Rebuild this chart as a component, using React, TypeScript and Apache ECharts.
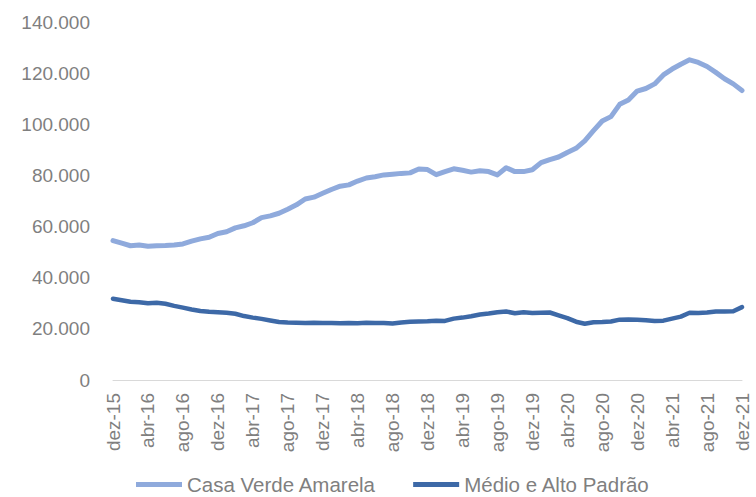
import React, { useEffect, useRef } from "react";
import * as echarts from "echarts";

const MONTHS = ["jan", "fev", "mar", "abr", "mai", "jun", "jul", "ago", "set", "out", "nov", "dez"];
const categories: string[] = ["dez-15"];
for (let y = 16; y <= 21; y++) {
  for (const m of MONTHS) categories.push(`${m}-${y}`);
}

const casaVerdeAmarela = [
  54.5, 53.5, 52.5, 52.8, 52.3, 52.5, 52.6, 52.8, 53.2, 54.3,
  55.2, 55.8, 57.3, 58.0, 59.5, 60.3, 61.5, 63.5, 64.2, 65.2,
  66.8, 68.5, 70.8, 71.5, 73.0, 74.5, 75.8, 76.3, 77.8, 79.0,
  79.5, 80.2, 80.5, 80.8, 81.0, 82.5, 82.3, 80.3, 81.5, 82.6,
  82.0, 81.3, 81.8, 81.5, 80.2, 83.0, 81.5, 81.5, 82.2, 85.0,
  86.2, 87.2, 89.0, 90.6, 93.5, 97.5, 101.3, 103.0, 107.8, 109.5,
  113.0, 114.0, 115.8, 119.3, 121.6, 123.5, 125.2, 124.2, 122.6, 120.3,
  117.8, 115.8, 113.2,
].map((v) => Math.round(v * 1000));

const medioAltoPadrao = [
  31.8, 31.2, 30.6, 30.4, 30.0, 30.2, 29.8, 29.0, 28.3, 27.6,
  27.0, 26.7, 26.5, 26.3, 25.9, 25.0, 24.4, 23.9, 23.3, 22.7,
  22.5, 22.4, 22.3, 22.4, 22.3, 22.3, 22.2, 22.3, 22.2, 22.4,
  22.3, 22.3, 22.1, 22.5, 22.8, 22.9, 23.0, 23.2, 23.1, 24.0,
  24.4, 24.9, 25.6, 26.0, 26.5, 26.8, 26.1, 26.5, 26.2, 26.3,
  26.4, 25.3, 24.2, 22.8, 22.0, 22.6, 22.7, 22.9, 23.6, 23.7,
  23.6, 23.4, 23.1, 23.2, 24.0, 24.8, 26.3, 26.2, 26.4, 26.8,
  26.8, 26.9, 28.5,
].map((v) => Math.round(v * 1000));

const seriesNames = ["Casa Verde Amarela", "Médio e Alto Padrão"];

const fmt = (v: number) => String(v).replace(/\B(?=(\d{3})+(?!\d))/g, ".");

export default function App() {
  const ref = useRef<HTMLDivElement>(null);
  useEffect(() => {
    if (!ref.current) return;
    const chart = echarts.init(ref.current, undefined, { renderer: "svg" });
    const font = "Arial, 'Liberation Sans', sans-serif";
    chart.setOption({
      animation: false,
      backgroundColor: "#ffffff",
      textStyle: { fontFamily: font },
      grid: { left: 113, right: 14, top: 22, bottom: 117, containLabel: false },
      legend: {
        left: 136,
        top: 474,
        itemWidth: 46,
        itemHeight: 5,
        itemGap: 37,
        icon: "rect",
        padding: 0,
        textStyle: { fontSize: 20.5, color: "#7f7f7f", fontFamily: font },
        data: seriesNames,
      },
      xAxis: {
        type: "category",
        data: categories,
        boundaryGap: false,
        axisLine: { show: true, lineStyle: { color: "#d9d9d9", width: 1 } },
        axisTick: { show: false },
        axisLabel: {
          interval: 3,
          rotate: 90,
          margin: 13,
          fontSize: 19,
          color: "#7f7f7f",
          fontFamily: font,
        },
        splitLine: { show: false },
      },
      yAxis: {
        type: "value",
        min: 0,
        max: 140000,
        interval: 20000,
        axisLine: { show: false },
        axisTick: { show: false },
        splitLine: { show: false },
        axisLabel: {
          margin: 23,
          fontSize: 19,
          color: "#7f7f7f",
          fontFamily: font,
          formatter: (v: number) => fmt(v),
        },
      },
      series: [
        {
          name: seriesNames[0],
          type: "line",
          data: casaVerdeAmarela,
          symbol: "none",
          lineStyle: { color: "#8faadc", width: 5, cap: "round", join: "round" },
          itemStyle: { color: "#8faadc" },
        },
        {
          name: seriesNames[1],
          type: "line",
          data: medioAltoPadrao,
          symbol: "none",
          lineStyle: { color: "#3d69a7", width: 4.5, cap: "round", join: "round" },
          itemStyle: { color: "#3d69a7" },
        },
      ],
    });
    return () => chart.dispose();
  }, []);
  return (
    <div
      ref={ref}
      style={{ position: "fixed", left: 0, top: 0, width: 756, height: 497 }}
    />
  );
}
